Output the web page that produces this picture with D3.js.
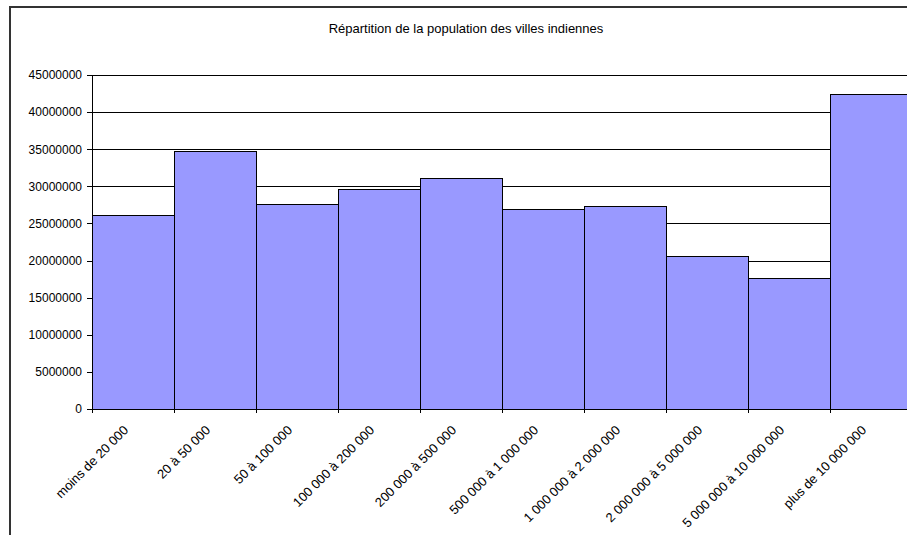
<!DOCTYPE html>
<html>
<head>
<meta charset="utf-8">
<script src="https://cdn.jsdelivr.net/npm/d3@7"></script>
<style>
  body { margin: 0; background: #fff; }
  text { font-family: "Liberation Sans", Arial, sans-serif; fill: #000; }
  .axis path, .axis line { stroke: #000; shape-rendering: crispEdges; }
  .grid line { stroke: #000; shape-rendering: crispEdges; }
  .bar { fill: #9999ff; stroke: #000; stroke-width: 1; shape-rendering: crispEdges; }
</style>
</head>
<body>
<div id="chart"></div>
<script>
// DATA
var categories = ["moins de 20 000", "20 à 50 000", "50 à 100 000", "100 000 à 200 000",
  "200 000 à 500 000", "500 000 à 1 000 000", "1 000 000 à 2 000 000",
  "2 000 000 à 5 000 000", "5 000 000 à 10 000 000", "plus de 10 000 000"];
var population = [26100000, 34700000, 27500000, 29600000, 31100000,
  26900000, 27300000, 20500000, 17600000, 42350000];
var yTicks = [0, 5000000, 10000000, 15000000, 20000000, 25000000,
  30000000, 35000000, 40000000, 45000000];
var title = "Répartition de la population des villes indiennes";

var margin = {top: 75, left: 92},
    width = 820,
    height = 334;

var svg = d3.select("#chart")
  .append("svg")
  .attr("width", 907)
  .attr("height", 535);

// chart frame
svg.append("rect")
  .attr("x", 10).attr("y", 7)
  .attr("width", 940).attr("height", 560)
  .attr("fill", "none")
  .attr("stroke", "#333")
  .attr("stroke-width", 2);

svg.append("text")
  .attr("x", 466).attr("y", 33)
  .attr("text-anchor", "middle")
  .style("font-size", "13px")
  .text(title);

var g = svg.append("g")
  .attr("transform", "translate(" + margin.left + "," + margin.top + ")");

// SCALES
var x = d3.scaleBand().domain(categories).range([0, width]).padding(0);
var edges = d3.scaleLinear().domain([0, categories.length]).range([0, width]);
var y = d3.scaleLinear().domain([0, 45000000]).range([height, 0]);

// gridlines
g.append("g")
  .attr("class", "grid")
  .selectAll("line")
  .data(yTicks.slice(1))
  .enter().append("line")
  .attr("x1", 0).attr("x2", width)
  .attr("y1", function(d) { return Math.round(y(d)) + 0.5; })
  .attr("y2", function(d) { return Math.round(y(d)) + 0.5; });

// bars
g.selectAll(".bar")
  .data(population)
  .enter().append("rect")
  .attr("class", "bar")
  .attr("x", function(d, i) { return x(categories[i]); })
  .attr("y", function(d) { return y(d); })
  .attr("width", x.bandwidth())
  .attr("height", function(d) { return height - y(d); });

// AXES
var yAxis = d3.axisLeft(y)
  .tickValues(yTicks)
  .tickFormat(d3.format("d"))
  .tickSize(5)
  .tickSizeOuter(0)
  .tickPadding(5);

g.append("g")
  .attr("class", "axis y-axis")
  .call(yAxis)
  .selectAll("text")
  .style("font-size", "12px");

var xAxis = d3.axisBottom(edges)
  .ticks(categories.length)
  .tickFormat("")
  .tickSize(4)
  .tickSizeOuter(0);

g.append("g")
  .attr("class", "axis x-axis")
  .attr("transform", "translate(0," + height + ")")
  .call(xAxis);

// rotated category labels
g.append("g")
  .selectAll("text")
  .data(categories)
  .enter().append("text")
  .attr("text-anchor", "end")
  .style("font-size", "13px")
  .attr("transform", function(d) {
    return "translate(" + (x(d) + x.bandwidth() / 2 - 4) + "," + (height + 22) + ") rotate(-45)";
  })
  .text(function(d) { return d; });
</script>
</body>
</html>
